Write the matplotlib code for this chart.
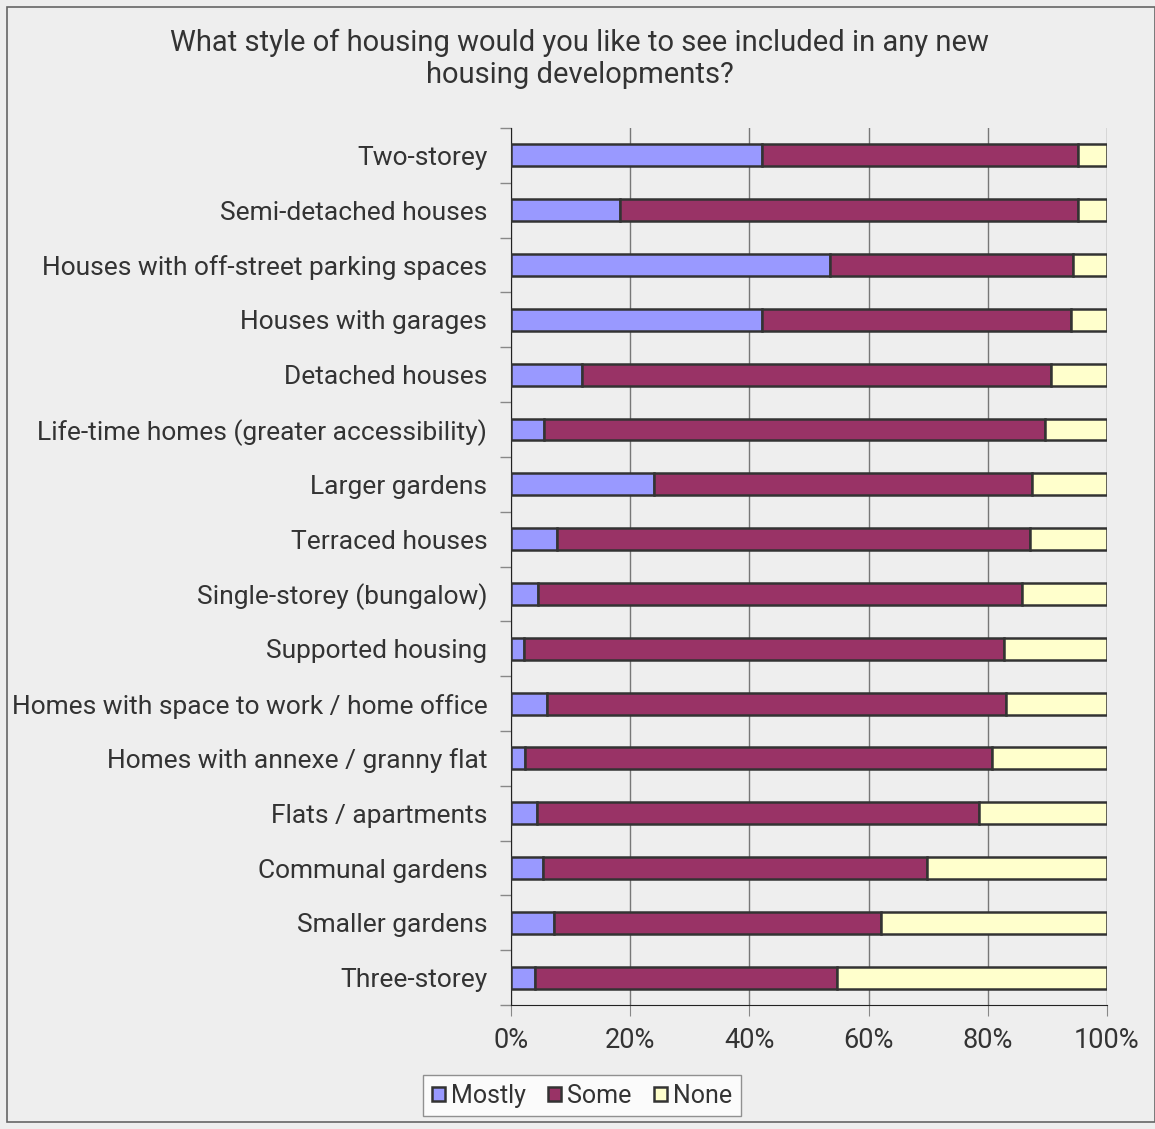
import matplotlib.pyplot as plt
from matplotlib.ticker import FixedLocator, PercentFormatter

# categories, top to bottom
categories = [
    "Two-storey",
    "Semi-detached houses",
    "Houses with off-street parking spaces",
    "Houses with garages",
    "Detached houses",
    "Life-time homes (greater accessibility)",
    "Larger gardens",
    "Terraced houses",
    "Single-storey (bungalow)",
    "Supported housing",
    "Homes with space to work / home office",
    "Homes with annexe / granny flat",
    "Flats / apartments",
    "Communal gardens",
    "Smaller gardens",
    "Three-storey",
]

# percentages
mostly = [42.1, 18.3, 53.5, 42.1, 11.9, 5.5, 24.0, 7.7, 4.5, 2.2, 6.0, 2.3, 4.4, 5.4, 7.2, 4.0]
some = [53.0, 76.8, 40.8, 51.9, 78.7, 84.1, 63.4, 79.4, 81.2, 80.5, 77.1, 78.4, 74.1, 64.4, 54.9, 50.7]
none = [100 - m - s for m, s in zip(mostly, some)]

series_names = ["Mostly", "Some", "None"]
colors = ["#9999ff", "#993366", "#ffffcc"]

plt.rcParams['font.family'] = ['Roboto', 'DejaVu Sans']
text_col = "#333333"

fig = plt.figure(figsize=(11.55, 11.29), dpi=100, facecolor="#eeeeee")
ax = fig.add_axes([0.4424, 0.1098, 0.516, 0.7768])
ax.set_facecolor("#eeeeee")

ypos = list(range(len(categories)))
left = [0] * len(categories)
for name, vals, col in zip(series_names, [mostly, some, none], colors):
    ax.barh(ypos, vals, left=left, height=0.4, color=col, edgecolor="#333333",
            linewidth=1.8, label=name, zorder=3)
    left = [l + v for l, v in zip(left, vals)]

ax.set_xlim(0, 100)
ax.set_ylim(len(categories) - 0.5, -0.5)
ax.xaxis.set_major_locator(FixedLocator([0, 20, 40, 60, 80, 100]))
ax.xaxis.set_major_formatter(PercentFormatter(decimals=0))
ax.grid(axis="x", color="#777777", linewidth=1, zorder=0)

ax.set_yticks(ypos)
ax.set_yticklabels(categories)
ax.yaxis.set_minor_locator(FixedLocator([i - 0.5 for i in range(len(categories) + 1)]))
ax.tick_params(axis="y", which="major", length=0, pad=17, labelsize=19, labelcolor=text_col)
ax.tick_params(axis="y", which="minor", length=8, color="#888888", width=1)
ax.tick_params(axis="x", length=8, color="#888888", labelsize=19.5, labelcolor=text_col, pad=8)

for s in ["top", "right"]:
    ax.spines[s].set_visible(False)
ax.spines["left"].set_color("#222222")
ax.spines["bottom"].set_color("#222222")

fig.text(0.502, 0.948, "What style of housing would you like to see included in any new\nhousing developments?",
         ha="center", va="center", fontsize=21, color=text_col, linespacing=1.2)

leg = fig.legend(loc="center", bbox_to_anchor=(0.504, 0.0295), ncol=3, frameon=True,
                 fontsize=18, handlelength=0.5, handleheight=0.5, handletextpad=0.25,
                 columnspacing=0.9, fancybox=False, borderpad=0.35)
leg.get_frame().set_edgecolor("#777777")
leg.get_frame().set_facecolor("white")
for t in leg.get_texts():
    t.set_color(text_col)

# outer border of the figure
fig.patches.append(plt.Rectangle((0.006, 0.006), 0.994, 0.988, transform=fig.transFigure,
                                 fill=False, edgecolor="#666666", linewidth=1.2))

fig.savefig("out.png", dpi=100, facecolor=fig.get_facecolor())
